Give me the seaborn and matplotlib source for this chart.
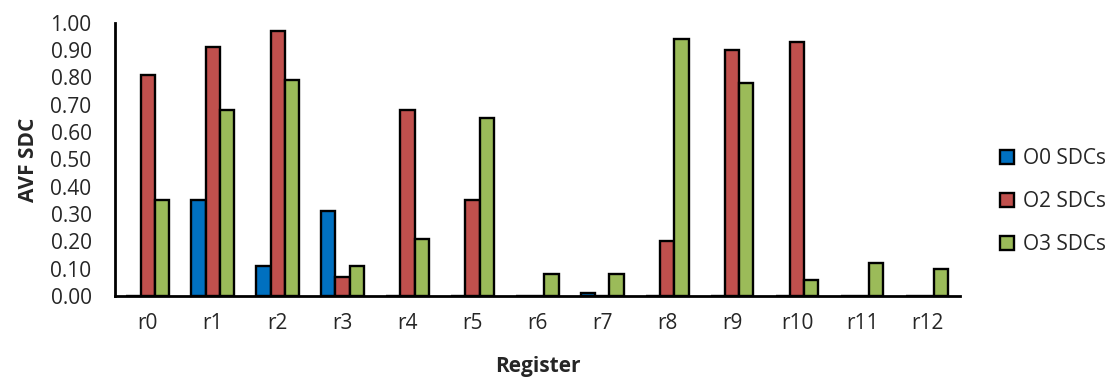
import pandas as pd
import matplotlib
matplotlib.use("Agg")
import matplotlib.pyplot as plt
import seaborn as sns

# Data
registers = ["r0", "r1", "r2", "r3", "r4", "r5", "r6", "r7", "r8", "r9", "r10", "r11", "r12"]
o0_sdcs = [0.0, 0.35, 0.11, 0.31, 0.0, 0.0, 0.0, 0.01, 0.0, 0.0, 0.0, 0.0, 0.0]
o2_sdcs = [0.81, 0.91, 0.97, 0.07, 0.68, 0.35, 0.0, 0.0, 0.20, 0.90, 0.93, 0.0, 0.0]
o3_sdcs = [0.35, 0.68, 0.79, 0.11, 0.21, 0.65, 0.08, 0.08, 0.94, 0.78, 0.06, 0.12, 0.10]
series = ["O0 SDCs", "O2 SDCs", "O3 SDCs"]
colors = ["#0070C0", "#C0504D", "#9BBB59"]

df = pd.DataFrame({
    "Register": registers * 3,
    "AVF": o0_sdcs + o2_sdcs + o3_sdcs,
    "Series": [s for s in series for _ in registers],
})

sns.set_style("white")
plt.rcParams["font.family"] = ["Open Sans", "DejaVu Sans"]

fig = plt.figure(figsize=(11.07, 3.81), dpi=100)
ax = fig.add_axes([0.104, 0.223, 0.763, 0.717])

sns.barplot(data=df, x="Register", y="AVF", hue="Series", palette=colors,
            saturation=1, width=0.65, edgecolor="black", linewidth=1.7, ax=ax)

ax.set_ylim(0, 1.0)
ax.set_yticks([i / 10 for i in range(11)])
ax.set_yticklabels([f"{i / 10:.2f}" for i in range(11)], fontsize=15)
ax.tick_params(axis="x", labelsize=15, length=0, pad=12)
ax.tick_params(axis="y", length=0, pad=17)
ax.set_xlabel("Register", fontsize=15, fontweight="bold", labelpad=16)
ax.set_ylabel("AVF SDC", fontsize=15, fontweight="bold", labelpad=8)

for s in ["top", "right"]:
    ax.spines[s].set_visible(False)
for s in ["left", "bottom"]:
    ax.spines[s].set_color("black")
    ax.spines[s].set_linewidth(2)

ax.legend(loc="center left", bbox_to_anchor=(1.025, 0.345), frameon=False,
          fontsize=15, handlelength=0.7, handleheight=0.7, labelspacing=1.05,
          handletextpad=0.4)

fig.savefig("out.png", dpi=100)
